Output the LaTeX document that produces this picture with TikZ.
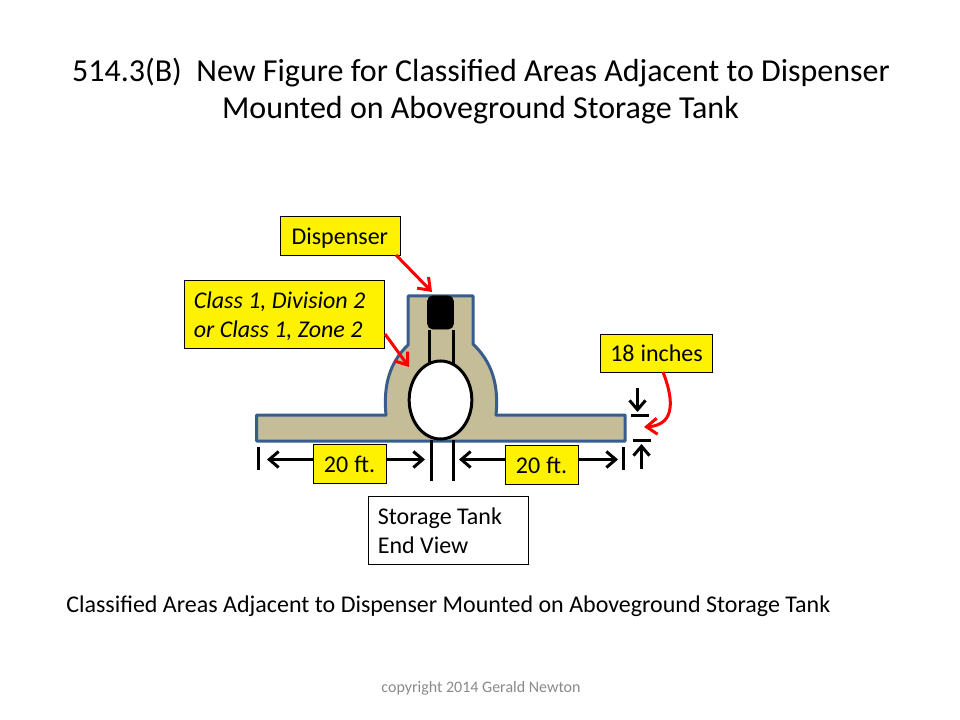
\documentclass[tikz,border=0pt]{standalone}
\usepackage{fontspec}
\setmainfont{Carlito}
\usetikzlibrary{arrows.meta,calc,shapes.geometric}
\definecolor{sandfill}{RGB}{196,189,151}
\definecolor{bluedge}{RGB}{56,93,138}
\definecolor{arrred}{RGB}{255,0,0}
\definecolor{copygray}{RGB}{137,137,137}
\tikzset{
  lab/.style={draw=black,fill=yellow,line width=0.75pt,inner sep=0pt,anchor=north west,font=\fontsize{18}{22}\selectfont,text height=14pt,text depth=1.5pt},
  labtwo/.style={lab,text depth=23.5pt},
  blk/.style={line width=2.25pt,draw=black},
  dim/.style={line width=2.25pt,draw=black,-{Straight Barb[length=7pt,width=12pt,line width=2.25pt]}},
  redarr/.style={line width=2.25pt,draw=arrred,-{Straight Barb[length=8pt,width=12pt,line width=2.25pt]}},
}
\begin{document}
\begin{tikzpicture}[x=0.75pt,y=-0.75pt]
\useasboundingbox (0,0) rectangle (960,720);
% titles
\node[anchor=center,font=\fontsize{24}{28}\selectfont] (title1) at (481,73) {514.3(B)\ \ New Figure for Classified Areas Adjacent to Dispenser};
\node[anchor=center,font=\fontsize{24}{28}\selectfont] (title2) at (480.5,110) {Mounted on Aboveground Storage Tank};
% zone
\draw[fill=sandfill,draw=bluedge,line width=2.25pt,line join=round]
  (256.5,415) -- (386,415) .. controls (383,385) and (390,362) .. (408,345) -- (408,296) -- (473,296) -- (473,344)
  .. controls (492,362) and (499,385) .. (496,415) -- (625,415) -- (625,441) -- (256.5,441) -- cycle;
% tank
\draw[blk] (429,330) -- (429,364);
\draw[blk] (453,330) -- (453,364);
\node[draw=black,fill=black,rounded corners=4pt,minimum width=19.5pt,minimum height=25pt,inner sep=0pt] (disp) at (440.5,312.5) {};
\node[draw=black,fill=white,line width=2.25pt,ellipse,minimum width=47pt,minimum height=58.5pt,inner sep=0pt] (tank) at (440.5,400) {};
\coordinate (tl) at (431,440); \coordinate (tlb) at (431,481);
\coordinate (tr) at (453.5,440); \coordinate (trb) at (453.5,481);
\draw[blk] (tl) -- (tlb);
\draw[blk] (tr) -- (trb);
% ticks
\coordinate (lt1) at (258.5,447); \coordinate (lt2) at (258.5,470);
\coordinate (rt1) at (623.5,447); \coordinate (rt2) at (623.5,470);
\draw[blk] (lt1) -- (lt2);
\draw[blk] (rt1) -- (rt2);
\coordinate (ga) at (631,415); \coordinate (gb) at (649,415);
\coordinate (gc) at (633,440); \coordinate (gd) at (651,440);
\draw[blk] (ga) -- (gb);
\draw[blk] (gc) -- (gd);
% labels
\node[lab,text width=54.75pt,minimum height=29.25pt,align=center] (l20a) at (312.5,444) {\spaceskip=0pt 20 ft.};
\node[lab,text width=54.75pt,minimum height=29.25pt,align=center] (l20b) at (504.5,445) {\spaceskip=0pt 20 ft.};
\node[lab,text width=90pt,minimum height=29.25pt,align=center] (ldisp) at (280,216) {\hspace*{-1pt}Dispenser};
\node[lab,text width=84pt,minimum height=28.5pt,align=center] (l18) at (600,333.5) {\spaceskip=0pt 18 inches};
\node[labtwo,text width=150pt,minimum height=51pt,align=left] (lclass) at (184,280) {\spaceskip=0pt\hspace*{7pt}\itshape Class 1, Division 2\\\hspace*{7pt}\itshape or Class 1, Zone 2};
\node[labtwo,fill=white,text width=120pt,minimum height=51pt,align=left] (lstore) at (368,496) {\spaceskip=0pt\hspace*{7pt}Storage Tank\\\hspace*{7pt}End View};
% dimension arrows
\coordinate (a1) at (267,459.5); \coordinate (a2) at (425,459.5);
\coordinate (b1) at (459,459.5); \coordinate (b2) at (618,459.5);
\draw[dim] (l20a.west |- a1) -- (a1);
\draw[dim] (l20a.east |- a2) -- (a2);
\draw[dim] (l20b.west |- b1) -- (b1);
\draw[dim] (l20b.east |- b2) -- (b2);
\coordinate (c1) at (637.5,388); \coordinate (c2) at (637.5,412);
\coordinate (d1) at (641.5,469); \coordinate (d2) at (641.5,444);
\draw[dim] (c1) -- (c2);
\draw[dim] (d1) -- (d2);
% red arrows
\coordinate (rd) at (432,292);
\coordinate (rc) at (409,367);
\coordinate (r18) at (644,427);
\draw[redarr] (396,255) -- (rd);
\draw[redarr] (385,334) -- (rc);
\draw[redarr] (663,372) .. controls (672,395) and (678,425) .. (r18);
% captions
\node[anchor=west,font=\fontsize{18}{22}\selectfont,inner sep=0pt] (cap) at (66,606) {Classified Areas Adjacent to Dispenser Mounted on Aboveground Storage Tank};
\node[anchor=center,font=\fontsize{12}{14}\selectfont,text=copygray,inner sep=0pt] (copy) at (481,688) {copyright 2014 Gerald Newton};
\end{tikzpicture}
\end{document}
